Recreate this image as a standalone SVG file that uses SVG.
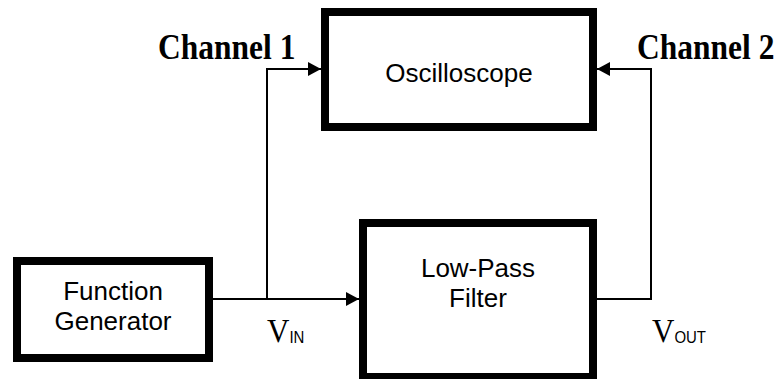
<svg xmlns="http://www.w3.org/2000/svg" width="778" height="379" viewBox="0 0 778 379">
<style>
.box{fill:#fff;stroke:#000;stroke-width:8}
.lbl{font-family:"Liberation Sans",Arial,sans-serif;font-size:26px;fill:#000;text-anchor:middle}
.ch{font-family:"Liberation Serif","Times New Roman",serif;font-size:31.5px;font-weight:bold;fill:#000}
.v{font-family:"Liberation Serif","Times New Roman",serif;font-size:31px;fill:#000}
.sub{font-family:"Liberation Sans",Arial,sans-serif;font-size:15px;fill:#000}
.wire{fill:none;stroke:#000;stroke-width:2}
</style>
<defs>
<marker id="arr" viewBox="0 0 13 14" refX="13" refY="7" markerWidth="13" markerHeight="14" markerUnits="userSpaceOnUse" orient="auto">
<path d="M0,0 L13,7 L0,14 Z" fill="#000"/>
</marker>
</defs>
<rect width="778" height="379" fill="#fff"/>
<g id="connectors">
<path class="wire" d="M213,299 L359,299" marker-end="url(#arr)"/>
<path class="wire" d="M267,299 L267,69 L321,69" marker-end="url(#arr)"/>
<path class="wire" d="M597,299 L651,299 L651,69 L597,69" marker-end="url(#arr)"/>
</g>
<g id="oscilloscope">
<rect class="box" x="325" y="12" width="268" height="115"/>
<text class="lbl" x="459" y="82">Oscilloscope</text>
</g>
<g id="function-generator">
<rect class="box" x="17" y="261" width="192" height="97"/>
<text class="lbl" x="113" y="300">Function</text>
<text class="lbl" x="113" y="330">Generator</text>
</g>
<g id="low-pass-filter">
<rect class="box" x="363" y="223" width="230" height="154"/>
<text class="lbl" x="478" y="277">Low-Pass</text>
<text class="lbl" x="478" y="307">Filter</text>
</g>
<g id="labels">
<text class="ch" transform="translate(158,59) scale(1,1.12)">Channel 1</text>
<text class="ch" transform="translate(637,59) scale(1,1.12)">Channel 2</text>
<text class="v" transform="translate(267,342) scale(1,1.1)">V<tspan class="sub" dy="1">IN</tspan></text>
<text class="v" transform="translate(652,342) scale(1,1.1)">V<tspan class="sub" dy="1">OUT</tspan></text>
</g>
</svg>
